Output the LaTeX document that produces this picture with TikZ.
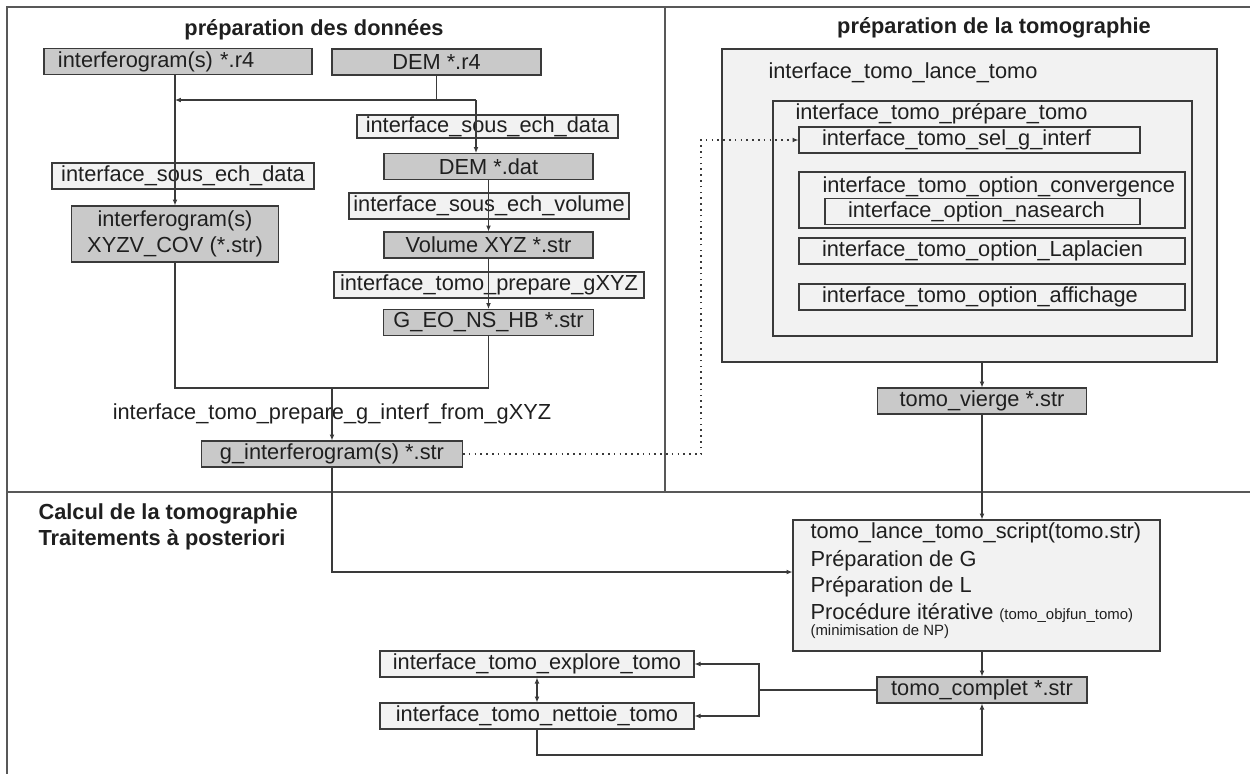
\documentclass[tikz,border=0pt]{standalone}
\usepackage{fontspec}
\setmainfont{Liberation Sans}
\usetikzlibrary{arrows.meta}
\definecolor{boxdark}{HTML}{C9C9C9}
\definecolor{boxlight}{HTML}{F2F2F2}
\definecolor{linegray}{HTML}{3A3A3A}
\definecolor{framegray}{HTML}{585858}
\tikzset{
  every picture/.style={line width=0.6pt},
  txt/.style={font=\fontsize{12.4}{14.5}\selectfont, text=black!88, inner sep=0pt},
  ttl/.style={txt, font=\fontsize{12.4}{14.5}\selectfont\bfseries},
  fbox/.style={txt, draw=linegray, rectangle, minimum height=5.2mm},
  fdark/.style={fbox, fill=boxdark},
  flight/.style={fbox, fill=boxlight},
  lpad/.style={align=left, inner xsep=4.6mm},
  conn/.style={draw=linegray},
  arr/.style={conn, -{Latex[length=3.4pt,width=2.8pt]}},
  arrboth/.style={conn, {Latex[length=3.4pt,width=2.8pt]}-{Latex[length=3.4pt,width=2.8pt]}},
  dotarr/.style={draw=linegray, line width=0.9pt, dash pattern=on 0.9pt off 2.4pt,
                 -{Latex[length=3.4pt,width=2.8pt]}},
  frame/.style={draw=framegray, line width=1.2pt},
}

\begin{document}
\begin{tikzpicture}[x=0.2mm,y=-0.2mm]
\useasboundingbox (0,0) rectangle (1250,774);
% panels
\draw[frame] (1250,7) -- (7,7) -- (7,774);
\draw[frame] (7,492) -- (1250,492);
\draw[frame] (665,7) -- (665,492);
\node[ttl] (ttldonnees) at (314,30) {préparation des données};
\node[ttl] (ttltomo) at (994,28) {préparation de la tomographie};
\node[ttl, anchor=west, align=left] (ttlcalcul) at (38,527) {Calcul de la tomographie\\Traitements à posteriori};

% preparation des donnees
\node[fdark, align=left, inner xsep=2.8mm, text width=48mm] (ifgr) at (178,61.5) {interferogram(s) *.r4};
\node[fdark, minimum width=41.8mm] (demr) at (436.5,62) {DEM *.r4};
\node[flight, minimum width=52.2mm, minimum height=4.6mm] (souschr) at (487.5,126.5) {interface\_sous\_ech\_data};
\node[fdark, minimum width=41.8mm] (demdat) at (488.5,166.5) {DEM *.dat};
\node[flight, minimum width=56mm] (souschvol) at (489,206) {interface\_sous\_ech\_volume};
\node[fdark, minimum width=41.8mm] (volxyz) at (488.5,245) {Volume XYZ *.str};
\node[flight, minimum width=62mm] (prepgxyz) at (489,285) {interface\_tomo\_prepare\_gXYZ};
\node[fdark, minimum width=42mm] (geo) at (488.5,322.5) {G\_EO\_NS\_HB *.str};
\node[flight, minimum width=52.4mm] (souschl) at (183,176) {interface\_sous\_ech\_data};
\node[fdark, minimum width=41.4mm, minimum height=11.2mm, align=center] (xyzv) at (175,234) {interferogram(s)\\XYZV\_COV (*.str)};
\node[txt] (prepgi) at (332,414) {interface\_tomo\_prepare\_g\_interf\_from\_gXYZ};
\node[fdark, minimum width=52.2mm] (ginterf) at (332,454) {g\_interferogram(s) *.str};

% preparation de la tomographie
\node[fbox, fill=boxlight, minimum width=99mm, minimum height=62.6mm] (lance) at (969.5,205.5) {};
\node[txt, anchor=west] (lancelbl) at (768,73) {interface\_tomo\_lance\_tomo};
\node[fbox, fill=boxlight, minimum width=83.8mm, minimum height=47mm] (preptomo) at (982.5,218.5) {};
\node[txt, anchor=west] (preplbl) at (795,113.5) {interface\_tomo\_prépare\_tomo};
\node[flight, lpad, text width=59mm] (selg) at (969.5,140) {interface\_tomo\_sel\_g\_interf};
\node[fbox, fill=boxlight, minimum width=77.2mm, minimum height=11.2mm] (conv) at (992,200) {};
\node[txt, anchor=west] (convlbl) at (822,187) {interface\_tomo\_option\_convergence};
\node[flight, lpad, text width=53.8mm] (nasrch) at (982.5,211.5) {interface\_option\_nasearch};
\node[flight, lpad, text width=68mm] (lapl) at (992,251) {interface\_tomo\_option\_Laplacien};
\node[flight, lpad, text width=68mm] (affi) at (992,297) {interface\_tomo\_option\_affichage};
\node[fdark, minimum width=41.8mm] (vierge) at (982,401) {tomo\_vierge *.str};

% calcul
\node[flight, minimum width=73.4mm, minimum height=26.2mm] (script) at (976.5,585.5) {};
\node[txt, anchor=west] (scr1) at (810,533) {tomo\_lance\_tomo\_script(tomo.str)};
\node[txt, anchor=west] (scr2) at (810,561) {Préparation de G};
\node[txt, anchor=west] (scr3) at (810,587) {Préparation de L};
\node[txt, anchor=west] (scr4) at (810,613) {Procédure itérative {\fontsize{8.5}{10}\selectfont (tomo\_objfun\_tomo)}};
\node[txt, anchor=west, font=\fontsize{8.5}{10}\selectfont] (scr5) at (810,632) {(minimisation de NP)};
\node[fdark, minimum width=42mm] (complet) at (982,690) {tomo\_complet *.str};
\node[flight, minimum width=62.8mm] (explore) at (537,664) {interface\_tomo\_explore\_tomo};
\node[flight, minimum width=62.8mm] (nettoie) at (537,716) {interface\_tomo\_nettoie\_tomo};

% connectors
\coordinate (jdem) at (436.5,100);
\coordinate (jdat) at (476,100);
\coordinate (jmerge) at (332,388);
\coordinate (jdot) at (701,454);
\coordinate (jscr) at (332,572);
\coordinate (jbr) at (759,690);
\coordinate (jloop) at (537,755);
\draw[arr] (xyzv.north |- ifgr.south) -- (xyzv.north);
\draw[conn] (demr) -- (jdem);
\draw[arr] (jdat) -- (xyzv.north |- jdat);
\draw[arr] (jdat) -- (jdat |- demdat.north);
\draw[arr] (demdat) -- (volxyz);
\draw[arr] (volxyz) -- (geo);
\draw[conn] (xyzv.south) |- (jmerge) -| (geo.south);
\draw[arr] (jmerge) -- (ginterf.north);
\draw[dotarr] (ginterf.east) -- (jdot) |- (selg.west);
\draw[arr] (ginterf.south) -- (jscr) -- (script.west |- jscr);
\draw[arr] (vierge.north |- lance.south) -- (vierge.north);
\draw[arr] (vierge.south) -- (vierge.south |- script.north);
\draw[arr] (complet.north |- script.south) -- (complet.north);
\draw[conn] (complet.west) -- (jbr);
\draw[arr] (jbr) |- (explore.east);
\draw[arr] (jbr) |- (nettoie.east);
\draw[arrboth] (explore.south) -- (nettoie.north);
\draw[arr] (nettoie.south) -- (jloop) -| (complet.south);
\end{tikzpicture}
\end{document}
